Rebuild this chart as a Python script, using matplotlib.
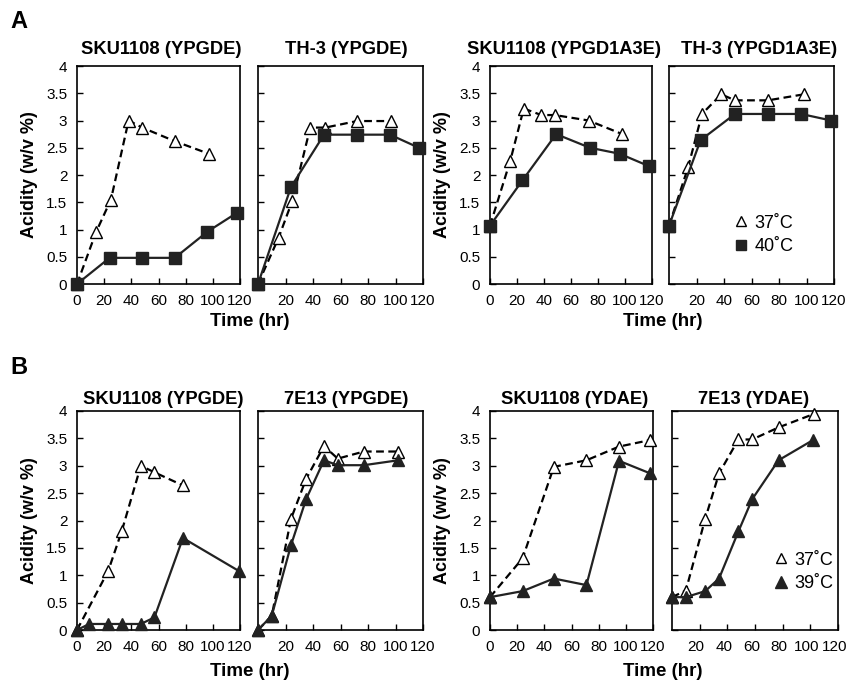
import matplotlib
matplotlib.use("Agg")
import matplotlib.pyplot as plt
import matplotlib.transforms as mtransforms
from matplotlib.lines import Line2D

plt.rcParams["font.family"] = ["Liberation Sans", "DejaVu Sans"]

# ---------------------------------------------------------------- data
# Panel A: 37C (open triangles) vs 40C (filled squares)
a1_t37 = [0, 14, 25, 38, 48, 72, 97]
a1_y37 = [0, 0.95, 1.55, 3.0, 2.87, 2.62, 2.39]
a1_t40 = [0, 24, 48, 72, 96, 118]
a1_y40 = [0, 0.48, 0.48, 0.48, 0.96, 1.31]

a2_t37 = [0, 15, 25, 38, 49, 72, 97]
a2_y37 = [0, 0.85, 1.53, 2.87, 2.87, 2.99, 2.99]
a2_t40 = [0, 24, 48, 72, 96, 117]
a2_y40 = [0, 1.78, 2.74, 2.74, 2.74, 2.5]

a3_t37 = [0, 15, 25, 38, 48, 73, 98]
a3_y37 = [1.07, 2.26, 3.22, 3.1, 3.1, 3.0, 2.75]
a3_t40 = [0, 24, 49, 74, 96, 118]
a3_y40 = [1.07, 1.9, 2.75, 2.5, 2.39, 2.16]

a4_t37 = [0, 14, 24, 38, 48, 72, 98]
a4_y37 = [1.07, 2.15, 3.12, 3.48, 3.37, 3.37, 3.48]
a4_t40 = [0, 23, 48, 72, 96, 118]
a4_y40 = [1.07, 2.64, 3.12, 3.12, 3.12, 3.0]

# Panel B: 37C (open triangles) vs 39C (filled triangles)
b1_t37 = [0, 23, 33, 47, 57, 78]
b1_y37 = [0, 1.08, 1.81, 3.0, 2.88, 2.64]
b1_t39 = [0, 9, 23, 33, 47, 57, 78, 119]
b1_y39 = [0, 0.11, 0.11, 0.11, 0.11, 0.23, 1.68, 1.08]

b2_t37 = [0, 10, 24, 35, 48, 58, 77, 102]
b2_y37 = [0, 0.26, 2.03, 2.76, 3.36, 3.13, 3.26, 3.26]
b2_t39 = [0, 10, 24, 35, 48, 58, 77, 102]
b2_y39 = [0, 0.26, 1.55, 2.39, 3.1, 3.01, 3.01, 3.1]

b3_t37 = [0, 24, 47, 71, 95, 118]
b3_y37 = [0.6, 1.31, 2.98, 3.1, 3.35, 3.47]
b3_t39 = [0, 24, 47, 71, 95, 118]
b3_y39 = [0.6, 0.71, 0.94, 0.82, 3.09, 2.86]

b4_t37 = [0, 10, 24, 34, 48, 58, 77, 103]
b4_y37 = [0.6, 0.72, 2.03, 2.86, 3.48, 3.48, 3.7, 3.95]
b4_t39 = [0, 10, 24, 34, 48, 58, 77, 102]
b4_y39 = [0.6, 0.6, 0.71, 0.94, 1.8, 2.39, 3.1, 3.47]

titles_a = ["SKU1108 (YPGDE)", "TH-3 (YPGDE)", "SKU1108 (YPGD1A3E)", "TH-3 (YPGD1A3E)"]
titles_b = ["SKU1108 (YPGDE)", "7E13 (YPGDE)", "SKU1108 (YDAE)", "7E13 (YDAE)"]

y_ticks = [0, 0.5, 1, 1.5, 2, 2.5, 3, 3.5, 4]
y_ticklabels = ["0", "0.5", "1", "1.5", "2", "2.5", "3", "3.5", "4"]
x_ticks_left = [0, 20, 40, 60, 80, 100, 120]
x_ticks_right = [20, 40, 60, 80, 100, 120]

W, H = 849, 681

# where each panel title sits (axes fraction), as in the original
title_x_a = [0.515, 0.533, 0.457, 0.545]
title_x_b = [0.528, 0.533, 0.52, 0.49]


def axes_rect(left, right, top, bottom):
    return [left / W, 1 - bottom / H, (right - left) / W, (bottom - top) / H]


def style_axes(ax, is_left):
    ax.set_xlim(0, 120)
    ax.set_ylim(0, 4)
    ax.set_yticks(y_ticks)
    ax.tick_params(direction="in", length=4, width=1, labelsize=11)
    ax.tick_params(axis="x", pad=7)
    ax.tick_params(axis="y", pad=7)
    if is_left:
        ax.set_yticklabels(y_ticklabels)
        ax.set_xticks(x_ticks_left)
    else:
        ax.set_yticklabels([])
        ax.set_xticks(x_ticks_right)
    for s in ax.spines.values():
        s.set_linewidth(1.2)


def draw(ax, t_a, y_a, t_b, y_b, filled_marker):
    ax.plot(t_a, y_a, linestyle=(0, (3.5, 2)), color="black", lw=1.6,
            marker="^", markersize=8.5, markerfacecolor="white",
            markeredgecolor="black", markeredgewidth=1, clip_on=False, zorder=3)
    ax.plot(t_b, y_b, linestyle="-", color="#222222", lw=1.6,
            marker=filled_marker, markersize=9 if filled_marker == "s" else 8.5,
            markerfacecolor="#222222", markeredgecolor="#222222",
            clip_on=False, zorder=3)


fig = plt.figure(figsize=(W / 100, H / 100), dpi=100)

rects_a = [axes_rect(77, 240, 66, 284), axes_rect(258, 423, 66, 284),
           axes_rect(490, 652, 66, 284), axes_rect(669, 834, 66, 284)]
rects_b = [axes_rect(77, 240, 411, 630), axes_rect(258, 423, 411, 630),
           axes_rect(490, 653, 411, 630), axes_rect(672, 838, 411, 630)]

data_a = [(a1_t37, a1_y37, a1_t40, a1_y40), (a2_t37, a2_y37, a2_t40, a2_y40),
          (a3_t37, a3_y37, a3_t40, a3_y40), (a4_t37, a4_y37, a4_t40, a4_y40)]
data_b = [(b1_t37, b1_y37, b1_t39, b1_y39), (b2_t37, b2_y37, b2_t39, b2_y39),
          (b3_t37, b3_y37, b3_t39, b3_y39), (b4_t37, b4_y37, b4_t39, b4_y39)]

axes_a, axes_b = [], []
for i in range(4):
    ax = fig.add_axes(rects_a[i])
    draw(ax, *data_a[i], "s")
    style_axes(ax, i % 2 == 0)
    ax.set_title(titles_a[i], fontsize=13.2, fontweight="bold", pad=9,
                 x=title_x_a[i])
    axes_a.append(ax)
    ax = fig.add_axes(rects_b[i])
    draw(ax, *data_b[i], "^")
    style_axes(ax, i % 2 == 0)
    ax.set_title(titles_b[i], fontsize=13.2, fontweight="bold", pad=5,
                 x=title_x_b[i])
    axes_b.append(ax)

# the bottom-right panel's tick labels sit a little to the left
shift = mtransforms.ScaledTranslation(-3.5 / 100, 0, fig.dpi_scale_trans)
for lab in axes_b[3].get_xticklabels():
    lab.set_transform(lab.get_transform() + shift)

for ax in (axes_a[0], axes_a[2], axes_b[0], axes_b[2]):
    ax.set_ylabel("Acidity (w/v %)", fontsize=13, fontweight="bold", labelpad=6)

# shared x labels under each pair
for cx in (250, 663):
    fig.text(cx / W, 1 - 322 / H, "Time (hr)", ha="center", va="center",
             fontsize=13.5, fontweight="bold")
    fig.text(cx / W, 1 - 671 / H, "Time (hr)", ha="center", va="center",
             fontsize=13.5, fontweight="bold")

fig.text(10 / W, 1 - 22 / H, "A", fontsize=17, fontweight="bold", va="center")
fig.text(10 / W, 1 - 368 / H, "B", fontsize=17, fontweight="bold", va="center")

# legends
h37 = Line2D([], [], linestyle="none", marker="^", markersize=7,
             markerfacecolor="white", markeredgecolor="black")
h40 = Line2D([], [], linestyle="none", marker="s", markersize=7,
             markerfacecolor="#222222", markeredgecolor="#222222")
h39 = Line2D([], [], linestyle="none", marker="^", markersize=8,
             markerfacecolor="#222222", markeredgecolor="#222222")
axes_a[3].legend([h37, h40], ["37˚C", "40˚C"], loc="center left",
                 bbox_to_anchor=(0.35, 0.225), frameon=False, fontsize=13,
                 handlelength=0.6, handletextpad=0.45, labelspacing=0.35,
                 borderpad=0)
axes_b[3].legend([h37, h39], ["37˚C", "39˚C"], loc="center left",
                 bbox_to_anchor=(0.57, 0.265), frameon=False, fontsize=13,
                 handlelength=0.6, handletextpad=0.45, labelspacing=0.35,
                 borderpad=0)

fig.savefig("out.png", dpi=100)
